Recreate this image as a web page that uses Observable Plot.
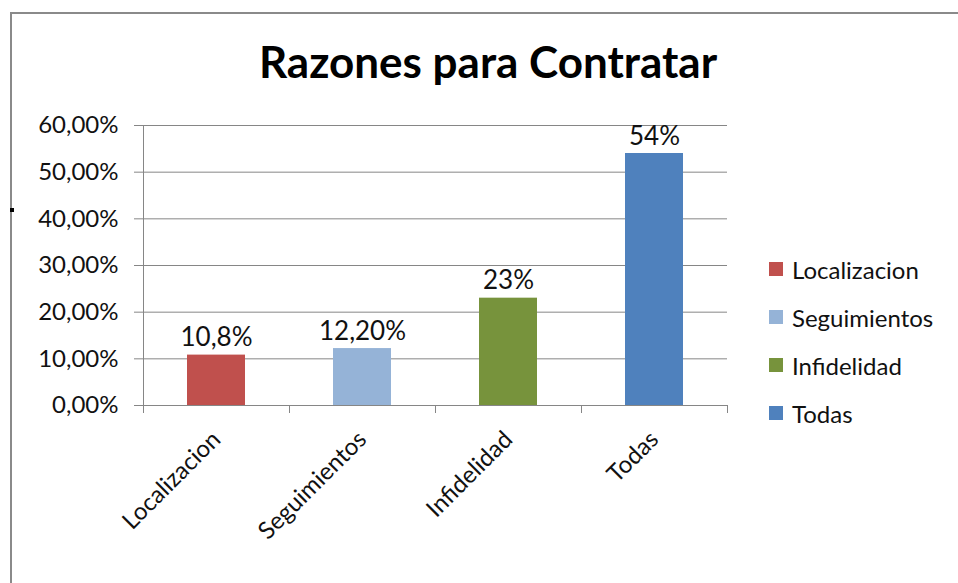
<!DOCTYPE html>
<html><head><meta charset="utf-8">
<script src="https://cdn.jsdelivr.net/npm/d3@7"></script>
<script src="https://cdn.jsdelivr.net/npm/@observablehq/plot@0.6"></script>
<style>
body{margin:0;background:#fff;font-family:Lato,sans-serif;}
#wrap{position:relative;width:958px;height:583px;overflow:hidden;background:#fff;}
#border{position:absolute;left:10px;top:12px;width:980px;height:620px;border-top:2px solid #8a8a8a;border-left:2px solid #8a8a8a;box-sizing:border-box;}
#dot{position:absolute;left:10px;top:208px;width:4px;height:4px;background:#000;}
#title{position:absolute;left:0;width:976px;top:33px;text-align:center;font-weight:bold;font-size:44px;color:#000;line-height:56px;}
#chart{position:absolute;left:0;top:0;}
#legend{position:absolute;left:769px;top:245px;}
.item{display:flex;align-items:center;height:48px;font-size:24px;color:#111;}
.sw{width:14px;height:14px;margin-right:9px;}
</style></head><body><div id="wrap"><div id="border"></div><div id="dot"></div><div id="title"></div><div id="chart"></div><div id="legend"></div></div>
<script>
const categories = ["Localizacion","Seguimientos","Infidelidad","Todas"];
const values = [10.8, 12.2, 23, 54];
const valueLabels = ["10,8%","12,20%","23%","54%"];
const colors = ["#C0504D","#95B3D7","#77933C","#4F81BD"];
const yTicks = [0,10,20,30,40,50,60];
const title = "Razones para Contratar";

const data = categories.map((c,i)=>({category:c, value:values[i], label:valueLabels[i]}));
const W=958,H=583, mL=143, mR=231, mT=125, mB=178;
const step = (W-mL-mR)/categories.length;
const tickLen = 8 * 60/(H-mT-mB);
const gray = "#868686";

const chart = Plot.plot({
  width:W, height:H, marginLeft:mL, marginRight:mR, marginTop:mT, marginBottom:mB,
  style:{fontFamily:"Lato, sans-serif", fontSize:"22px", color:"#111", background:"transparent", overflow:"visible"},
  x:{domain:categories, paddingInner:0.6, paddingOuter:0.3, label:null},
  y:{domain:[0,60], label:null},
  color:{domain:categories, range:colors},
  marks:[
    Plot.gridY(yTicks,{stroke:gray, strokeOpacity:1}),
    Plot.axisY(yTicks,{tickSize:9, tickPadding:16, stroke:gray, fontSize:24, label:null,
      tickFormat:d=>d.toFixed(2).replace(".",",")+"%"}),
    Plot.barY(data,{x:"category", y:"value", fill:"category"}),
    Plot.ruleX([categories[0]],{x:d=>d, dx:-step/2, stroke:gray}),
    Plot.ruleY([0],{stroke:gray}),
    Plot.ruleX(categories,{x:d=>d, y1:0, y2:-tickLen, dx:-step/2, stroke:gray}),
    Plot.ruleX([categories[categories.length-1]],{x:d=>d, y1:0, y2:-tickLen, dx:step/2, stroke:gray}),
    Plot.text(data,{x:"category", y:"value", text:"label", lineAnchor:"bottom", dy:-9, fontSize:26, fill:"#111"}),
    Plot.axisX({tickSize:0, tickRotate:-45, tickPadding:30, fontSize:24, label:null})
  ]
});
document.getElementById("chart").appendChild(chart);
document.getElementById("title").textContent = title;
const color = chart.scale("color");
const leg = document.getElementById("legend");
categories.forEach(c=>{
  const it = document.createElement("div"); it.className="item";
  const sw = document.createElement("div"); sw.className="sw"; sw.style.background = color.apply(c);
  const t = document.createElement("span"); t.textContent = c;
  it.appendChild(sw); it.appendChild(t); leg.appendChild(it);
});
</script></body></html>
